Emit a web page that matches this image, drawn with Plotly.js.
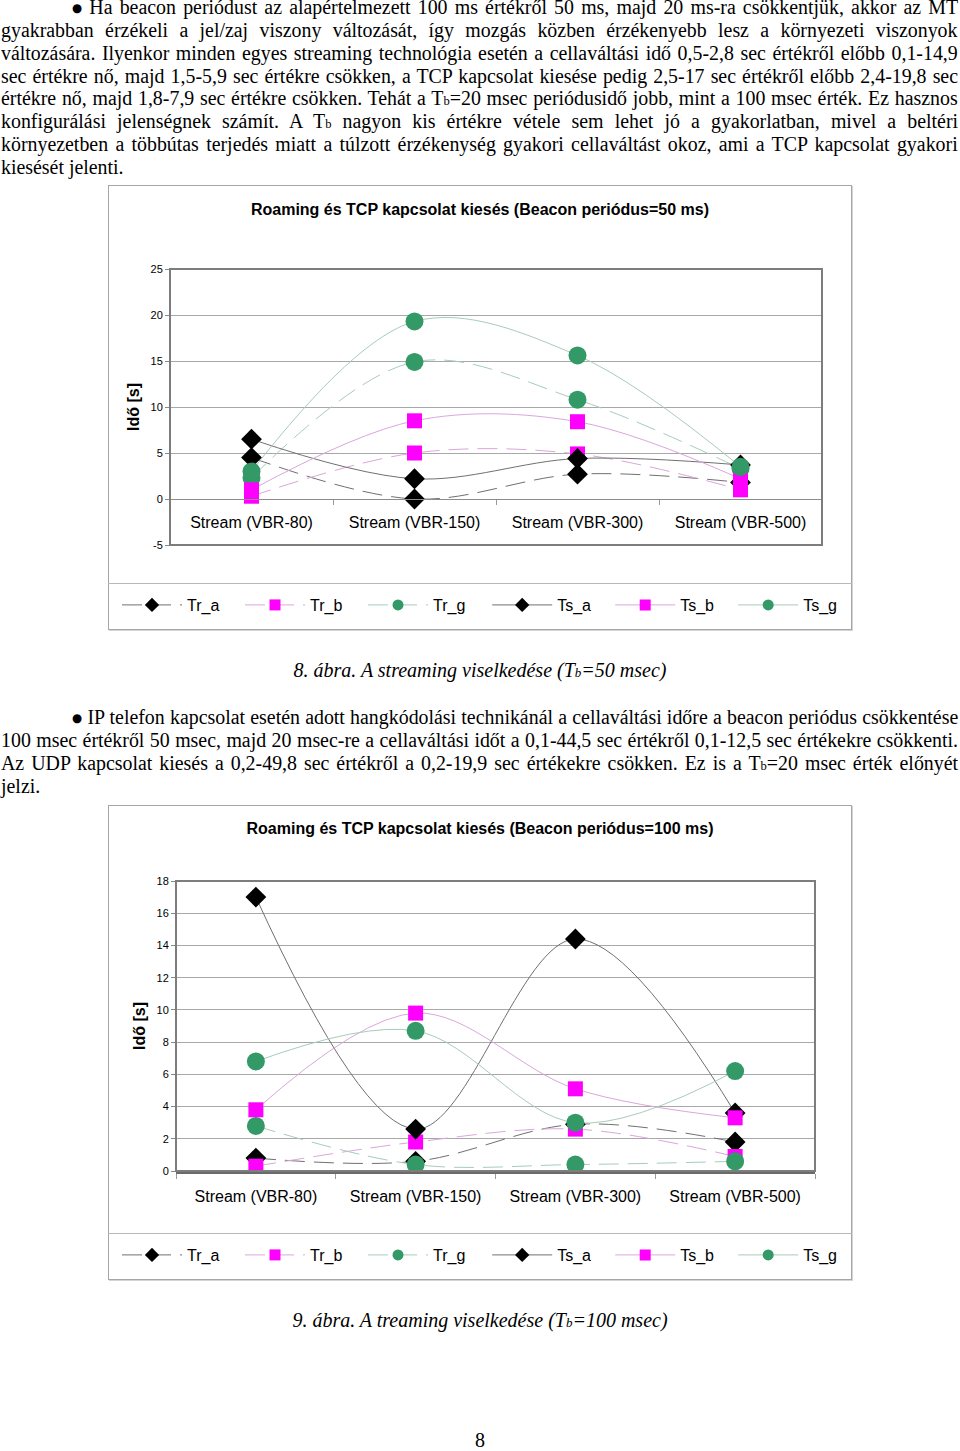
<!DOCTYPE html>
<html><head><meta charset="utf-8">
<script src="https://cdn.plot.ly/plotly-3.0.1.min.js"></script>
<style>
html,body{margin:0;padding:0;background:#fff;}
body{width:960px;height:1451px;position:relative;overflow:hidden;font-family:"Liberation Serif","Times New Roman",serif;color:#000;}
.ln{position:absolute;white-space:nowrap;font-size:20.5px;line-height:23px;transform-origin:0 0;}
.sb{font-size:13px;}
.bul{font-family:"DejaVu Sans",sans-serif;font-size:12px;position:relative;top:-2px;}
.cap{position:absolute;left:0;width:960px;text-align:center;font-style:italic;font-size:20px;line-height:23px;}
.box{position:absolute;left:108px;width:742px;border:1px solid #a6a6a6;box-shadow:1px 1px 0 #d4d4d4;z-index:5;pointer-events:none;}
.sep{position:absolute;left:108px;width:744px;height:0;border-top:1px solid #b8b8b8;z-index:5;}
.plot{position:absolute;left:108px;width:744px;}
</style></head>
<body>
<div id="text"></div>
<div class="plot" id="c1" style="top:185px;height:445px;"></div>
<div class="box" style="top:185px;height:443px;"></div>
<div class="sep" style="top:583px;"></div>
<div class="cap" style="top:659px;">8. ábra. A streaming viselkedése (T<span class="sb">b</span>=50 msec)</div>
<div class="plot" id="c2" style="top:805px;height:475px;"></div>
<div class="box" style="top:805px;height:473px;"></div>
<div class="sep" style="top:1233px;"></div>
<div class="cap" style="top:1309px;">9. ábra. A treaming viselkedése (T<span class="sb">b</span>=100 msec)</div>
<div class="cap" style="top:1429px;font-style:normal;">8</div>
<script>
// ---------- data ----------
const categories = ['Stream (VBR-80)', 'Stream (VBR-150)', 'Stream (VBR-300)', 'Stream (VBR-500)'];
const seriesNames = ['Tr_a', 'Tr_b', 'Tr_g', 'Ts_a', 'Ts_b', 'Ts_g'];

// Beacon periódus = 50 ms
const b50_Tr_a = [4.5, 0.0, 2.7, 1.8];
const b50_Tr_b = [0.3, 5.0, 4.9, 1.0];
const b50_Tr_g = [2.3, 14.9, 10.8, 3.3];
const b50_Ts_a = [6.5, 2.2, 4.4, 3.7];
const b50_Ts_b = [1.0, 8.5, 8.4, 2.2];
const b50_Ts_g = [3.0, 19.3, 15.6, 3.5];
const b50_ticks = [-5, 0, 5, 10, 15, 20, 25];

// Beacon periódus = 100 ms
const b100_Tr_a = [0.8, 0.6, 2.9, 1.8];
const b100_Tr_b = [0.3, 1.8, 2.6, 0.9];
const b100_Tr_g = [2.8, 0.4, 0.4, 0.6];
const b100_Ts_a = [17.0, 2.6, 14.4, 3.6];
const b100_Ts_b = [3.8, 9.8, 5.1, 3.3];
const b100_Ts_g = [6.8, 8.7, 3.0, 6.2];
const b100_ticks = [0, 2, 4, 6, 8, 10, 12, 14, 16, 18];

const title50 = 'Roaming és TCP kapcsolat kiesés (Beacon periódus=50 ms)';
const title100 = 'Roaming és TCP kapcsolat kiesés (Beacon periódus=100 ms)';
const yTitle = 'Idő [s]';

// ---------- text ----------
const TB = 'T<span class="sb">b</span>';
const para1 = [
 '<span class="bul">●</span> Ha beacon periódust az alapértelmezett 100 ms értékről 50 ms, majd 20 ms-ra csökkentjük, akkor az MT',
 'gyakrabban érzékeli a jel/zaj viszony változását, így mozgás közben érzékenyebb lesz a környezeti viszonyok',
 'változására. Ilyenkor minden egyes streaming technológia esetén a cellaváltási idő 0,5-2,8 sec értékről előbb 0,1-14,9',
 'sec értékre nő, majd 1,5-5,9 sec értékre csökken, a TCP kapcsolat kiesése pedig 2,5-17 sec értékről előbb 2,4-19,8 sec',
 'értékre nő, majd 1,8-7,9 sec értékre csökken. Tehát a ' + TB + '=20 msec periódusidő jobb, mint a 100 msec érték. Ez hasznos',
 'konfigurálási jelenségnek számít. A ' + TB + ' nagyon kis értékre vétele sem lehet jó a gyakorlatban, mivel a beltéri',
 'környezetben a többútas terjedés miatt a túlzott érzékenység gyakori cellaváltást okoz, ami a TCP kapcsolat gyakori',
 'kiesését jelenti.'
];
const para2 = [
 '<span class="bul">●</span> IP telefon kapcsolat esetén adott hangkódolási technikánál a cellaváltási időre a beacon periódus csökkentése',
 '100 msec értékről 50 msec, majd 20 msec-re a cellaváltási időt a 0,1-44,5 sec értékről 0,1-12,5 sec értékekre csökkenti.',
 'Az UDP kapcsolat kiesés a 0,2-49,8 sec értékről a 0,2-19,9 sec értékekre csökken. Ez is a ' + TB + '=20 msec érték előnyét',
 'jelzi.'
];
const K = 0.97;
function addPara(lines, top0, firstLeft) {
  const host = document.getElementById('text');
  lines.forEach((h, i) => {
    const d = document.createElement('div');
    d.className = 'ln';
    d.innerHTML = h;
    const left = i === 0 ? firstLeft : 1;
    d.style.left = left + 'px';
    d.style.top = (top0 + i * 22.85) + 'px';
    host.appendChild(d);
    const last = i === lines.length - 1;
    const w = d.offsetWidth;
    const target = (958 - left) / K;
    const n = (d.textContent.match(/ /g) || []).length;
    if (!last && n > 0) d.style.wordSpacing = ((target - w) / n) + 'px';
    d.style.transform = 'scaleX(' + K + ')';
  });
}
addPara(para1, -4, 72);
addPara(para2, 706, 72);

// ---------- charts ----------
const FONT = 'Liberation Sans, Arial, sans-serif';
const styles = {
  a: {symbol: 'diamond', color: '#000000', line: '#707070', size: 16, lsize: 11},
  b: {symbol: 'square', color: '#ff00ff', line: '#dba6db', size: 15, lsize: 11},
  g: {symbol: 'circle', color: '#339966', line: '#a9ccb9', size: 18, lsize: 11}
};
function traces(data) {
  const main = seriesNames.map((nm, i) => {
    const st = styles[nm.slice(-1)];
    const dashed = nm.startsWith('Tr');
    return {
      type: 'scatter', mode: 'lines+markers', name: nm, showlegend: false,
      x: categories, y: data[i],
      line: {color: st.line, width: 1, shape: 'spline', smoothing: 1, dash: dashed ? '20px,9px' : 'solid'},
      marker: {symbol: st.symbol, color: st.color, size: st.size, line: {width: 0}},
      cliponaxis: false
    };
  });
  // legend entries (smaller symbols, as in the reference legend); Tr_* in legend, Ts_* in legend2
  const leg = seriesNames.map((nm) => {
    const st = styles[nm.slice(-1)];
    const dashed = nm.startsWith('Tr');
    return {
      type: 'scatter', mode: 'lines+markers', name: nm, showlegend: true,
      legend: dashed ? 'legend' : 'legend2',
      x: [null], y: [null],
      line: {color: st.line, width: 1, dash: dashed ? '20px,9px' : 'solid'},
      marker: {symbol: st.symbol, color: st.color, size: st.lsize, line: {width: 0}}
    };
  });
  return main.concat(leg);
}
function legendCfg(xpx, ly) {
  return {orientation: 'h', xref: 'container', x: xpx / 744, xanchor: 'left',
          yref: 'container', y: ly, yanchor: 'middle',
          font: {family: FONT, size: 16, color: '#000'}, itemwidth: 60,
          entrywidth: 48, entrywidthmode: 'pixels',
          bgcolor: 'rgba(0,0,0,0)', borderwidth: 0, traceorder: 'normal'};
}
function layout(o) {
  return {
    width: 744, height: o.h,
    margin: {l: o.l, r: o.r, t: o.t, b: o.b, pad: 0, autoexpand: false},
    paper_bgcolor: 'rgba(0,0,0,0)', plot_bgcolor: '#ffffff',
    font: {family: FONT, color: '#000', size: 11},
    title: {text: '<b>' + o.title + '</b>', font: {family: FONT, size: 16, color: '#000'},
            x: 0.5, xref: 'container', y: o.ty, yref: 'container', yanchor: 'middle'},
    showlegend: true,
    legend: legendCfg(9, o.ly),
    legend2: legendCfg(9 + 3 * 123.4, o.ly),
    xaxis: Object.assign({
      type: 'category', categoryorder: 'array', categoryarray: categories,
      range: [-0.5, 3.5], showgrid: false, zeroline: false,
      showline: true, linecolor: o.xlc, linewidth: o.xlw,
      ticks: 'outside', tickson: 'boundaries', ticklen: 5, tickcolor: '#999',
      tickfont: {family: FONT, size: 16, color: '#000'}, ticklabelstandoff: 9,
      fixedrange: true
    }, o.xextra),
    yaxis: {
      range: o.yr, tickvals: o.ticks, ticktext: o.ticks.map(String),
      showgrid: true, gridcolor: '#a8a8a8', gridwidth: 1, zeroline: false,
      showline: false, ticks: 'outside', ticklen: 4, tickcolor: '#888',
      tickfont: {family: FONT, size: 11, color: '#000'},
      title: {text: '<b>' + yTitle + '</b>', font: {family: FONT, size: 16, color: '#000'}, standoff: 6},
      automargin: false, fixedrange: true
    },
    shapes: [{type: 'rect', xref: 'paper', yref: 'paper', x0: 0, x1: 1, y0: 0, y1: 1,
              line: {color: '#7d7d7d', width: 2}, layer: 'above'}]
  };
}
Plotly.newPlot('c1', traces([b50_Tr_a, b50_Tr_b, b50_Tr_g, b50_Ts_a, b50_Ts_b, b50_Ts_g]),
  layout({h: 445, l: 62, r: 30, t: 84, b: 85, title: title50, ty: 1 - 24 / 445,
          ly: 1 - 420 / 445, yr: [-5, 25], ticks: b50_ticks,
          xlc: '#8c8c8c', xlw: 1, xextra: {anchor: 'free', position: 5 / 30}}),
  {staticPlot: true});
Plotly.newPlot('c2', traces([b100_Tr_a, b100_Tr_b, b100_Tr_g, b100_Ts_a, b100_Ts_b, b100_Ts_g]),
  layout({h: 475, l: 68, r: 37, t: 76, b: 109, title: title100, ty: 1 - 23 / 475,
          ly: 1 - 450 / 475, yr: [0, 18], ticks: b100_ticks,
          xlc: '#6a6a6a', xlw: 3, xextra: {}}),
  {staticPlot: true});
</script>
</body></html>
